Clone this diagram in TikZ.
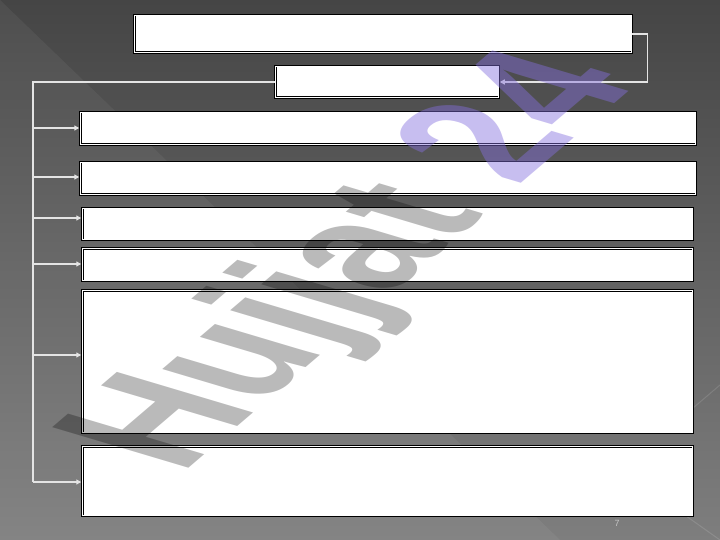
\documentclass[tikz,border=0pt]{standalone}
\usepackage{fontspec}
\setmainfont{Liberation Sans}
\usetikzlibrary{arrows.meta}
\definecolor{bgtop}{HTML}{454545}
\definecolor{bgbot}{HTML}{7E7E7E}
\definecolor{conn}{HTML}{E4E4E4}
\definecolor{wmpurple}{RGB}{133,111,222}
\definecolor{pnum}{HTML}{C4C4C4}
\begin{document}
\begin{tikzpicture}[x=1pt,y=-1pt,
  box/.style={draw=black, line width=0.9pt, double=white, double distance=0.7pt,
              fill=white, inner sep=0pt, outer sep=0pt},
  link/.style={draw=conn, line width=1.2pt},
  arr/.style={link, -{Triangle[length=5pt,width=5pt]}, shorten >=1pt},
  wm/.style={transform shape, anchor=base west, inner sep=0pt, outer sep=0pt,
             font=\fontsize{100}{100}\selectfont\bfseries}]
% background
\useasboundingbox (0,0) rectangle (720,540);
\fill[top color=bgtop, bottom color=bgbot] (0,0) rectangle (720,540);
\fill[white, opacity=0.05] (0,0) -- (560,540) -- (0,540) -- cycle;
\draw[white, opacity=0.12, line width=1pt] (720,385) -- (686,414);
\draw[white, opacity=0.12, line width=1pt] (672,506) -- (720,540);
% boxes
\node[box, minimum width=497.5pt, minimum height=37.5pt] (t)  at (383,34)    {};
\node[box, minimum width=223.5pt, minimum height=31.5pt] (s)  at (387,82)    {};
\node[box, minimum width=615.5pt, minimum height=32.5pt] (b1) at (388,128.5) {};
\node[box, minimum width=615.5pt, minimum height=32.5pt] (b2) at (388,178.5) {};
\node[box, minimum width=610.5pt, minimum height=31.5pt] (b3) at (387.5,224) {};
\node[box, minimum width=610.5pt, minimum height=32.5pt] (b4) at (387.5,264.5) {};
\node[box, minimum width=610.5pt, minimum height=142.5pt] (b5) at (387.5,361.5) {};
\node[box, minimum width=610.5pt, minimum height=69.5pt] (b6) at (387.5,481) {};
% connectors
\draw[arr] (t.east) -- ++(16,0) |- (s.east);
\coordinate (k1) at (33,128);
\coordinate (k2) at (33,177);
\coordinate (k3) at (33,218);
\coordinate (k4) at (33,264);
\coordinate (k5) at (33,355);
\coordinate (k6) at (33,482);
\draw[link] (s.west) -| (k6);
\draw[arr] (k1) -- (k1 -| b1.west);
\draw[arr] (k2) -- (k2 -| b2.west);
\draw[arr] (k3) -- (k3 -| b3.west);
\draw[arr] (k4) -- (k4 -| b4.west);
\draw[arr] (k5) -- (k5 -| b5.west);
\draw[arr] (k6) -- (k6 -| b6.west);
% page number
\node[font=\fontsize{9}{9}\selectfont, text=pnum, inner sep=0pt] (pg) at (617,523) {7};
% watermark
\begin{scope}[shift={(181,474)}, cm={1.10,0.94,-1.98,0.59,(0,0)}, x=1pt, y=1pt]
\node[wm, text=black, text opacity=0.27] (wm1) at (0,0) {Hujjat};
\node[wm, text=wmpurple, text opacity=0.45] (wm2) at (305.6,0) {24};
\end{scope}
\end{tikzpicture}
\end{document}
